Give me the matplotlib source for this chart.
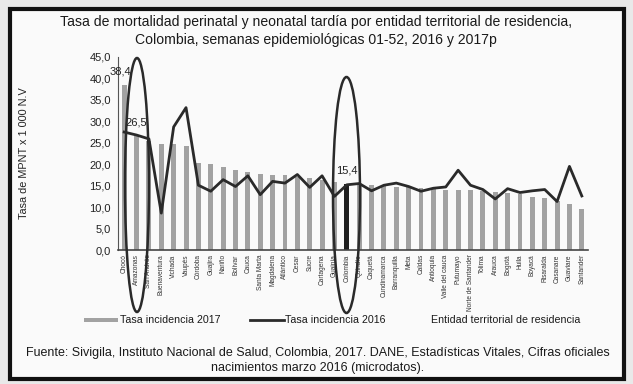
import matplotlib
matplotlib.use("Agg")
import matplotlib.pyplot as plt
from matplotlib.patches import Ellipse, Rectangle
from matplotlib.lines import Line2D
from matplotlib.ticker import FuncFormatter, MultipleLocator
import numpy as np

plt.rcParams['font.family'] = ['Liberation Sans', 'DejaVu Sans']

categories = ["Chocó", "Amazonas", "San Andrés", "Buenaventura", "Vichada", "Vaupés",
              "Córdoba", "Guajira", "Nariño", "Bolívar", "Cauca", "Santa Marta",
              "Magdalena", "Atlántico", "Cesar", "Sucre", "Cartagena", "Guainía",
              "Colombia", "Quindío", "Caquetá", "Cundinamarca", "Barranquilla", "Meta",
              "Caldas", "Antioquia", "Valle del cauca", "Putumayo", "Norte de Santander",
              "Tolima", "Arauca", "Bogotá", "Huila", "Boyacá", "Risaralda", "Casanare",
              "Guaviare", "Santander"]

tasa_2017 = [38.4, 26.5, 25.3, 24.8, 24.6, 24.2, 20.4, 20.1, 19.3, 18.7, 18.3, 17.7,
             17.6, 17.4, 17.0, 16.8, 16.4, 15.8, 15.4, 15.3, 15.1, 14.9, 14.8, 14.6,
             14.5, 14.3, 14.1, 14.0, 13.9, 13.7, 13.6, 13.4, 13.1, 12.4, 12.2, 11.5,
             10.7, 9.5]

tasa_2016 = [27.5, 26.8, 25.9, 8.6, 28.7, 33.2, 15.1, 13.7, 16.4, 14.8, 17.3, 12.9,
             16.0, 15.6, 17.6, 14.6, 17.3, 12.5, 15.2, 15.5, 13.8, 15.1, 15.6, 14.8,
             13.7, 14.4, 14.7, 18.6, 15.1, 14.1, 11.9, 14.3, 13.4, 13.8, 14.1, 11.3,
             19.5, 12.6]

labels_show = {"Chocó": "38,4", "Amazonas": "26,5", "Colombia": "15,4"}

W, H = 633, 384
fig = plt.figure(figsize=(W / 100, H / 100), dpi=100)
fig.patch.set_facecolor('#e9e9e9')

# white framed box
fig.patches.append(Rectangle((10 / W, 1 - 379 / H), 614 / W, 370 / H, transform=fig.transFigure,
                             facecolor='#fafafa', edgecolor='#111111', linewidth=3, zorder=-5))

ax = fig.add_axes([118 / W, 1 - 250 / H, 470 / W, 193 / H])
ax.set_zorder(2)
ax.set_facecolor('none')
x = np.arange(len(categories))
bar_colors = ['#1e1e1e' if c == "Colombia" else '#a2a2a2' for c in categories]
ax.bar(x, tasa_2017, width=0.4, color=bar_colors, zorder=2)
ax.plot(x, tasa_2016, color='#2a2a2a', linewidth=2.0, zorder=3)

for c, txt in labels_show.items():
    i = categories.index(c)
    dx = -3 if c == "Chocó" else 0
    ax.annotate(txt, (i, tasa_2017[i]), xytext=(dx, 10), textcoords='offset points',
                ha='center', va='center', fontsize=8, color='#222222', zorder=4)

ax.set_xlim(-0.5, len(categories) - 0.5)
ax.set_ylim(0, 45)
ax.yaxis.set_major_locator(MultipleLocator(5))
ax.yaxis.set_major_formatter(FuncFormatter(lambda v, p: f"{v:.1f}".replace('.', ',')))
ax.tick_params(axis='y', length=0, labelsize=8, labelcolor='#222222', pad=5)
ax.set_xticks(x)
ax.set_xticklabels(categories, rotation=90, fontsize=4.7, color='#333333')
ax.tick_params(axis='x', length=0, pad=3)
for s in ['top', 'right']:
    ax.spines[s].set_visible(False)
ax.spines['left'].set_color('#555555')
ax.spines['bottom'].set_color('#444444')
ax.spines['bottom'].set_linewidth(1.2)
ax.set_ylabel("Tasa de MPNT x 1 000 N.V", fontsize=7.8, color='#222222')
ax.yaxis.set_label_coords(-0.19, 0.5)

# title
fig.text(316 / W, 1 - 22 / H, "Tasa de mortalidad perinatal y neonatal tardía por entidad territorial de residencia,",
         ha='center', va='center', fontsize=10.1, color='#1a1a1a')
fig.text(316 / W, 1 - 40 / H, "Colombia, semanas epidemiológicas 01-52, 2016 y 2017p",
         ha='center', va='center', fontsize=10.1, color='#1a1a1a')

# legend
fig.patches.append(Rectangle((84 / W, 1 - 322 / H), 34 / W, 4 / H, transform=fig.transFigure,
                             facecolor='#a2a2a2', edgecolor='none'))
fig.text(120 / W, 1 - 320 / H, "Tasa incidencia 2017", ha='left', va='center', fontsize=7.7, color='#1a1a1a')
fig.lines.append(Line2D([250 / W, 284 / W], [1 - 320 / H, 1 - 320 / H], transform=fig.transFigure,
                        color='#2a2a2a', linewidth=2.0))
fig.text(285 / W, 1 - 320 / H, "Tasa incidencia 2016", ha='left', va='center', fontsize=7.7, color='#1a1a1a')
fig.text(506 / W, 1 - 320 / H, "Entidad territorial de residencia", ha='center', va='center',
         fontsize=7.7, color='#1a1a1a')

# source
fig.text(318 / W, 1 - 353 / H,
         "Fuente: Sivigila, Instituto Nacional de Salud, Colombia, 2017. DANE, Estadísticas Vitales, Cifras oficiales",
         ha='center', va='center', fontsize=9.0, color='#1a1a1a')
fig.text(318 / W, 1 - 368 / H, "nacimientos marzo 2016 (microdatos).",
         ha='center', va='center', fontsize=9.0, color='#1a1a1a')

# hand-drawn highlight ellipses
fig.patches.append(Ellipse((137 / W, 1 - 185 / H), 24 / W, 254 / H, transform=fig.transFigure,
                           facecolor='none', edgecolor='#2a2a2a', linewidth=1.8, zorder=5))
fig.patches.append(Ellipse((346.5 / W, 1 - 195 / H), 27 / W, 236 / H, transform=fig.transFigure,
                           facecolor='none', edgecolor='#2a2a2a', linewidth=1.8, zorder=5))

fig.savefig("out.png", dpi=100, facecolor=fig.get_facecolor())
